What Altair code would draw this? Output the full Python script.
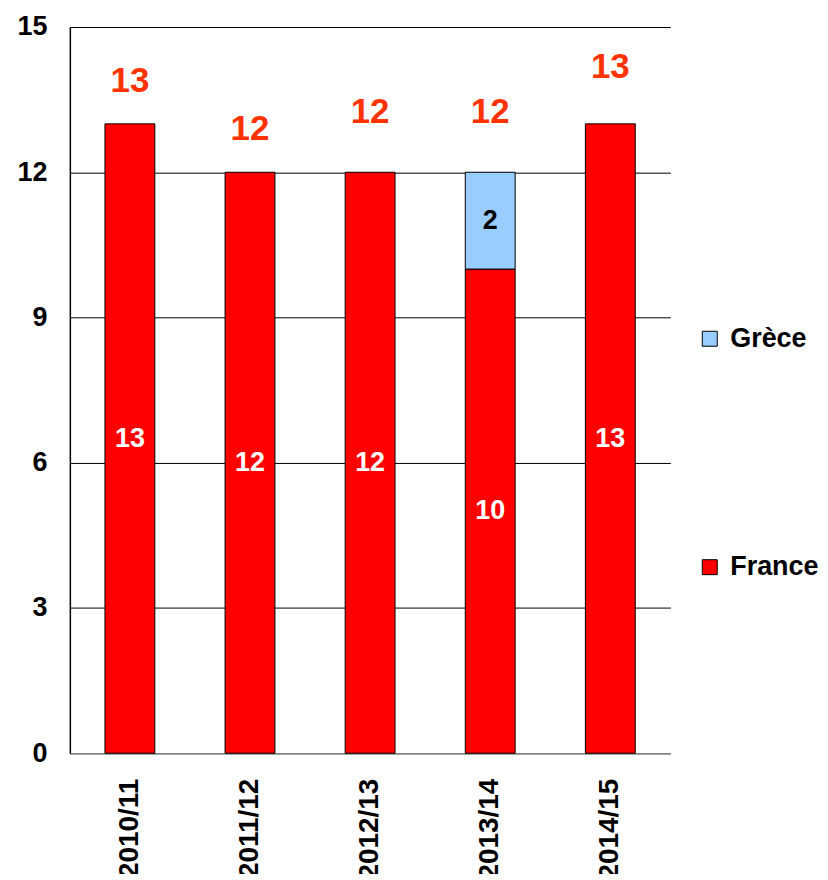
import altair as alt
import pandas as pd

years = ["2010/11", "2011/12", "2012/13", "2013/14", "2014/15"]
france = [13, 12, 12, 10, 13]
grece = [0, 0, 0, 2, 0]
totals = [13, 12, 12, 12, 13]
series = ["Grèce", "France"]
colors = ["#99CCFF", "#FF0000"]

# pixel lift of the total labels above each bar (styling only)
total_dy = {"2010/11": -43, "2011/12": -43, "2012/13": -60, "2013/14": -60, "2014/15": -57}

rows = []
for i, yr in enumerate(years):
    rows.append({"year": yr, "series": "France", "value": france[i], "order": 0})
    if grece[i] > 0:
        rows.append({"year": yr, "series": "Grèce", "value": grece[i], "order": 1})
df = pd.DataFrame(rows)
tot = pd.DataFrame({"year": years, "total": totals})

FONT = "Liberation Sans"

x = alt.X(
    "year:N", sort=years, title=None,
    scale=alt.Scale(paddingInner=0.58, paddingOuter=0.29),
    axis=alt.Axis(labelAngle=270, labelAlign="right", labelBaseline="middle",
                  labelFontSize=28, labelFontWeight="bold", labelFont=FONT,
                  labelColor="black", labelPadding=25, ticks=False,
                  domainColor="#808080", domainWidth=1.5, grid=False),
)
yscale = alt.Scale(domain=[0, 15], nice=False)

bars = alt.Chart(df).mark_bar(size=50, stroke="black", strokeWidth=1).encode(
    x=x,
    y=alt.Y("value:Q", stack="zero", scale=yscale, title=None,
            axis=alt.Axis(values=[0, 3, 6, 9, 12, 15], grid=True, gridColor="black",
                          gridWidth=1, domainColor="black", domainWidth=1.5,
                          ticks=False, labelPadding=23, labelFontSize=27,
                          labelFontWeight="bold", labelFont=FONT, labelColor="black")),
    color=alt.Color("series:N", scale=alt.Scale(domain=series, range=colors),
                    legend=alt.Legend(title=None, orient="none", legendX=628, legendY=299,
                                      symbolType="square", symbolSize=225,
                                      symbolStrokeColor="black", symbolStrokeWidth=1,
                                      labelFontSize=27, labelFontWeight="bold",
                                      labelFont=FONT, labelColor="black",
                                      labelOffset=7, rowPadding=201)),
    order=alt.Order("order:Q"),
)

stacked = alt.Chart(df).transform_stack(
    stack="value", groupby=["year"], as_=["y0", "y1"],
    sort=[alt.SortField("order", order="ascending")],
).transform_calculate(mid="(datum.y0 + datum.y1) / 2")

inside_fr = stacked.transform_filter(alt.datum.series == "France").mark_text(
    fontSize=27, fontWeight="bold", font=FONT, color="white", baseline="middle"
).encode(x=x, y=alt.Y("mid:Q", scale=yscale), text="value:Q")

inside_gr = stacked.transform_filter(alt.datum.series == "Grèce").mark_text(
    fontSize=27, fontWeight="bold", font=FONT, color="black", baseline="middle"
).encode(x=x, y=alt.Y("mid:Q", scale=yscale), text="value:Q")

total_layers = []
for yr in years:
    total_layers.append(
        alt.Chart(tot).transform_filter(alt.datum.year == yr).mark_text(
            fontSize=35, fontWeight="bold", font=FONT, color="#FF3300",
            baseline="middle", dy=total_dy[yr]
        ).encode(x=x, y=alt.Y("total:Q", scale=yscale), text="total:Q")
    )

chart = alt.layer(bars, inside_fr, inside_gr, *total_layers).properties(
    width=602, height=728,
    autosize=alt.AutoSizeParams(type="none"),
    padding={"left": 62, "top": 18, "right": 150, "bottom": 120},
).configure_view(stroke=None)

chart.save("out.html", embed_options={"renderer": "svg", "actions": False})
